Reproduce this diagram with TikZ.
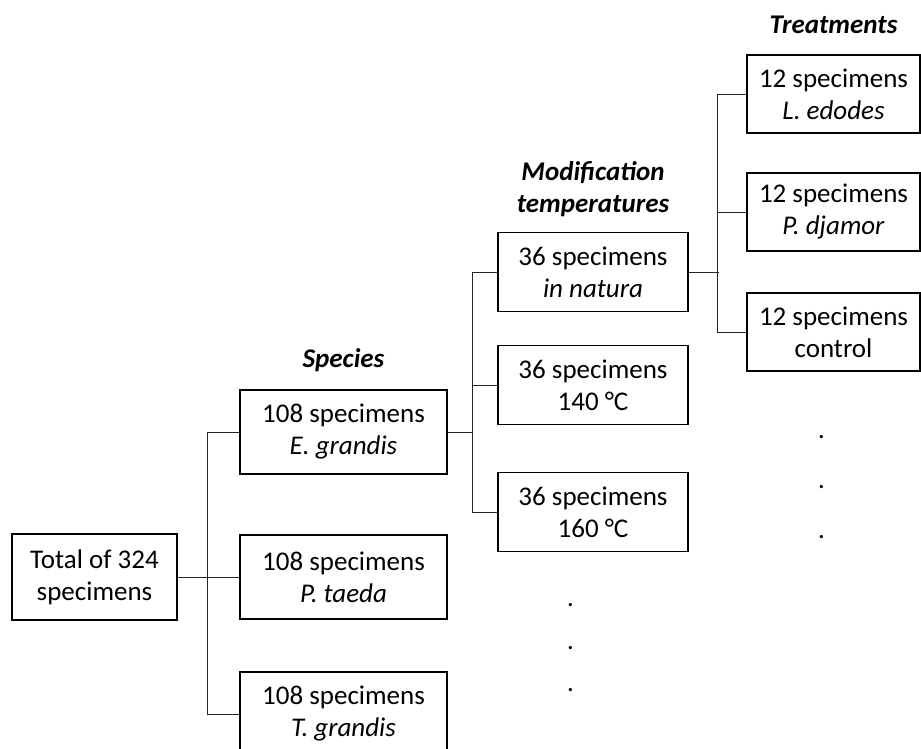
\documentclass[tikz,border=0pt]{standalone}
\usepackage{fontspec}
\setmainfont{Carlito}
\usepackage{tikz}
\usetikzlibrary{positioning,calc}

\tikzset{
  box/.style={draw,line width=1.6pt,align=center,inner sep=0pt},
  spbox/.style={box,minimum width=207pt,minimum height=84pt},
  tmbox/.style={box,minimum width=190pt,minimum height=79pt},
  trbox/.style={box,minimum width=173pt,minimum height=78pt},
  link/.style={line width=0.8pt,draw=black!85},
  head/.style={font=\fontsize{27}{32}\selectfont\bfseries\itshape,align=center}
}

\begin{document}
\begin{tikzpicture}[x=1pt,y=-1pt,font=\fontsize{27}{32}\selectfont]
    \useasboundingbox (0,0) rectangle (921,748);
    \clip (0,0) rectangle (921,748);
    % Total
    \node[box,minimum width=165pt,minimum height=86pt] (total) at (94.5,577) {Total of 324\\specimens};
    % Species
    \node[head] (hspecies) at (343.5,360) {Species};
    \node[spbox] (egrandis) at (343.5,432) {108 specimens\\\textit{E. grandis}};
    \node[spbox] (ptaeda) at (343.5,577) {108 specimens\\\textit{P. taeda}};
    \node[spbox] (tgrandis) at (343.5,714) {108 specimens\\\textit{T. grandis}};
    \draw[link] (total.east) -- (ptaeda.west);
    \draw[link] (egrandis.west) -- ++(-32,0) |- (tgrandis.west);
    % Modification temperatures
    \node[head] (htemp) at (593,189) {Modification\\temperatures};
    \node[tmbox] (natura) at (593,272) {36 specimens\\\textit{in natura}};
    \node[tmbox] (t140) at (593,385) {36 specimens\\140 °C};
    \node[tmbox] (t160) at (593,512) {36 specimens\\160 °C};
    \coordinate (bus2) at ($(natura.west)+(-25,160)$);
    \draw[link] (egrandis.east) -- (bus2);
    \draw[link] (natura.west) -- ++(-25,0) |- (t160.west);
    \draw[link] (t140.west) -- ++(-25,0);
    % Treatments
    \node[head] (htreat) at (833.5,25) {Treatments};
    \node[trbox] (ledodes) at (833.5,94) {12 specimens\\\textit{L. edodes}};
    \node[trbox] (pdjamor) at (833.5,212) {12 specimens\\\textit{P. djamor}};
    \node[trbox] (control) at (833.5,332) {12 specimens\\control};
    \draw[link] (natura.east) -- ++(30,0);
    \draw[link] (ledodes.west) -- ++(-29,0) |- (control.west);
    \draw[link] (pdjamor.west) -- ++(-29,0);
    % dots
    \foreach \k/\yy in {1/437,2/487,3/537}
        \node[inner sep=0pt] (tdot\k) at (822,\yy) {\textit{.}};
    \foreach \k/\yy in {1/605,2/648,3/690}
        \node[inner sep=0pt] (mdot\k) at (571,\yy) {\textit{.}};
\end{tikzpicture}
\end{document}
